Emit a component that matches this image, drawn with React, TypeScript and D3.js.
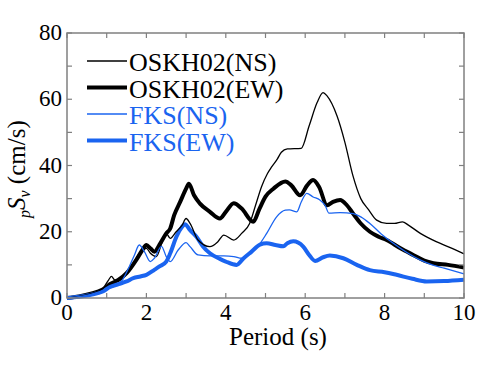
import React, { useEffect, useRef } from 'react';
import * as d3 from 'd3';

// [period (s), pSv (cm/s)]
const oskhNS: [number, number][] = [
  [0, 0], [0.3, 0.5], [0.6, 1.3], [0.9, 2.8], [1.05, 5.5], [1.12, 6.5], [1.2, 5.5], [1.3, 5.4],
  [1.5, 7.5], [1.7, 11], [1.85, 14], [2.0, 15], [2.1, 13.5], [2.25, 12.5], [2.4, 17], [2.5, 19.5],
  [2.6, 18], [2.75, 20], [2.9, 22], [3.0, 24], [3.1, 22.5], [3.3, 17.5], [3.6, 15.5], [3.8, 17],
  [3.95, 19], [4.2, 17.5], [4.4, 19.5], [4.6, 22.5], [4.75, 28], [4.9, 33.6], [5.05, 37.6],
  [5.15, 39.5], [5.3, 42], [5.4, 44], [5.55, 45], [5.9, 45.2], [6.1, 52], [6.3, 59], [6.45, 62],
  [6.55, 61], [6.8, 55], [7.0, 47], [7.2, 37], [7.4, 30], [7.6, 26.6], [7.8, 23.5], [8.05, 22.5],
  [8.25, 22.5], [8.45, 23], [8.6, 22], [8.9, 19.5], [9.3, 17], [9.7, 15], [10, 13.3],
];
const oskhEW: [number, number][] = [
  [0, 0], [0.3, 0.5], [0.6, 1.3], [0.9, 2.6], [1.1, 4.3], [1.3, 5.5], [1.5, 7.5], [1.75, 11.6],
  [1.9, 14.5], [2.0, 16], [2.1, 15], [2.2, 14], [2.35, 16.5], [2.5, 19.5], [2.6, 21], [2.7, 25],
  [2.85, 29], [3.0, 33], [3.07, 34.5], [3.2, 31], [3.35, 28.5], [3.6, 26], [3.85, 24], [4.0, 26],
  [4.2, 28.6], [4.4, 27], [4.69, 23], [4.85, 27], [5.0, 30.6], [5.2, 33], [5.5, 35.2], [5.65, 34],
  [5.87, 31], [6.05, 34], [6.2, 35.6], [6.35, 33.5], [6.55, 28], [6.7, 29], [6.88, 29.6],
  [7.05, 28], [7.2, 25.6], [7.4, 22.5], [7.63, 20], [7.85, 18.5], [8.05, 17.5], [8.4, 15],
  [8.72, 13], [9.0, 11.3], [9.23, 10.5], [9.6, 10], [10, 9.2],
];
const fksNS: [number, number][] = [
  [0, 0], [0.3, 0.4], [0.6, 1.1], [0.9, 2.2], [1.2, 3.6], [1.4, 5.5], [1.55, 9], [1.7, 13],
  [1.82, 16], [1.95, 14], [2.1, 11], [2.2, 12], [2.38, 15.6], [2.5, 12.5], [2.6, 11], [2.8, 14.5],
  [3.0, 16.7], [3.1, 15.5], [3.3, 13], [3.6, 12.7], [3.95, 12.7], [4.2, 12.5], [4.4, 12],
  [4.6, 13.5], [4.8, 15.5], [5.03, 19.5], [5.28, 24.5], [5.5, 26.5], [5.6, 26.6], [5.79, 26],
  [5.9, 29], [6.04, 31.6], [6.2, 30.5], [6.37, 29.6], [6.5, 28], [6.6, 25.6], [6.88, 25.8],
  [7.21, 25.5], [7.4, 24.5], [7.63, 22.5], [7.9, 19.5], [8.22, 16.5], [8.55, 13.8], [8.89, 11.5],
  [9.2, 10], [9.5, 9], [10, 7.3],
];
const fksEW: [number, number][] = [
  [0, 0], [0.3, 0.4], [0.6, 1], [0.9, 2], [1.08, 3.3], [1.3, 4.2], [1.5, 5], [1.67, 6],
  [1.85, 6.5], [2.0, 7], [2.2, 8.5], [2.34, 9.6], [2.5, 11], [2.6, 13.5], [2.76, 18.6], [2.9, 21.5],
  [2.97, 22.3], [3.1, 20.5], [3.26, 18.5], [3.43, 15.5], [3.6, 13.5], [3.85, 11.8], [4.0, 11],
  [4.27, 10], [4.45, 12], [4.65, 14], [4.86, 16.1], [5.03, 16.5], [5.25, 16], [5.45, 15.6],
  [5.55, 16.5], [5.7, 17.1], [5.95, 15.5], [6.1, 13], [6.25, 11.2], [6.45, 12.3], [6.62, 12.8],
  [6.96, 12], [7.3, 10], [7.63, 8.4], [8.0, 7.8], [8.3, 7], [8.7, 5.8], [9.06, 5], [9.5, 5.1],
  [10, 5.5],
];

const xTicks = [0, 2, 4, 6, 8, 10];
const yTicks = [0, 20, 40, 60, 80];
const seriesNames = ['OSKH02(NS)', 'OSKH02(EW)', 'FKS(NS)', 'FKS(EW)'];

const BLUE = '#1a64f0';
const FONT = '"Liberation Serif", "Times New Roman", serif';

export default function App() {
  const ref = useRef<SVGSVGElement>(null);

  useEffect(() => {
    const svg = d3.select(ref.current);
    svg.selectAll('*').remove();
    const left = 67, right = 464, top = 33, bottom = 298;
    const x = d3.scaleLinear().domain([0, 10]).range([left, right]);
    const y = d3.scaleLinear().domain([0, 80]).range([bottom, top]);
    const frame = '#808080';

    const g = svg.append('g');
    const lineGen = d3.line<[number, number]>().x(d => x(d[0])).y(d => y(d[1])).curve(d3.curveMonotoneX);

    const series = [
      { data: oskhNS, color: '#000', w: 1.3 },
      { data: oskhEW, color: '#000', w: 4 },
      { data: fksNS, color: BLUE, w: 1.3 },
      { data: fksEW, color: BLUE, w: 4 },
    ];

    // thick ones underneath, thin on top
    [1, 3, 0, 2].forEach(i => {
      const s = series[i];
      g.append('path').attr('d', lineGen(s.data)!).attr('fill', 'none')
        .attr('stroke', s.color).attr('stroke-width', s.w).attr('stroke-linejoin', 'round');
    });

    // frame + inside ticks
    g.append('rect').attr('x', left).attr('y', top).attr('width', right - left).attr('height', bottom - top)
      .attr('fill', 'none').attr('stroke', frame).attr('stroke-width', 1.5);
    d3.range(0, 10.01, 1).forEach(t => {
      g.append('line').attr('x1', x(t)).attr('x2', x(t)).attr('y1', bottom).attr('y2', bottom - 5).attr('stroke', frame).attr('stroke-width', 1.2);
      g.append('line').attr('x1', x(t)).attr('x2', x(t)).attr('y1', top).attr('y2', top + 5).attr('stroke', frame).attr('stroke-width', 1.2);
    });
    d3.range(0, 80.01, 10).forEach(v => {
      g.append('line').attr('x1', left).attr('x2', left + 5).attr('y1', y(v)).attr('y2', y(v)).attr('stroke', frame).attr('stroke-width', 1.2);
      g.append('line').attr('x1', right).attr('x2', right - 5).attr('y1', y(v)).attr('y2', y(v)).attr('stroke', frame).attr('stroke-width', 1.2);
    });

    g.selectAll('.xt').data(xTicks).enter().append('text')
      .attr('x', d => x(d)).attr('y', bottom + 22).attr('text-anchor', 'middle')
      .style('font-family', FONT).style('font-size', '23px').text(d => d);
    g.selectAll('.yt').data(yTicks).enter().append('text')
      .attr('x', left - 5).attr('y', d => y(d) + 7).attr('text-anchor', 'end')
      .style('font-family', FONT).style('font-size', '23px').text(d => d);

    g.append('text').attr('x', 278).attr('y', 345).attr('text-anchor', 'middle')
      .style('font-family', FONT).style('font-size', '25px').text('Period (s)');

    const yl = g.append('text').attr('transform', 'translate(25,218) rotate(-90)')
      .style('font-family', FONT).style('font-size', '25px');
    yl.append('tspan').attr('font-style', 'italic').attr('font-size', '16px').attr('dy', 5).text('p');
    yl.append('tspan').attr('font-style', 'italic').attr('dy', -5).text('S');
    yl.append('tspan').attr('font-style', 'italic').attr('font-size', '16px').attr('dy', 5).text('v');
    yl.append('tspan').attr('dy', -5).text(' (cm/s)');

    // legend
    const baselines = [71, 97.5, 124, 150.5];
    series.forEach((s, i) => {
      g.append('line').attr('x1', 87).attr('x2', 127).attr('y1', baselines[i] - 10).attr('y2', baselines[i] - 10)
        .attr('stroke', s.color).attr('stroke-width', s.w);
      g.append('text').attr('x', 129).attr('y', baselines[i]).attr('fill', s.color)
        .style('font-family', FONT).style('font-size', '26px').text(seriesNames[i]);
    });
  }, []);

  return (
    <svg ref={ref} width={500} height={366}
      style={{ position: 'absolute', left: 0, top: 0, background: '#fff' }} />
  );
}
